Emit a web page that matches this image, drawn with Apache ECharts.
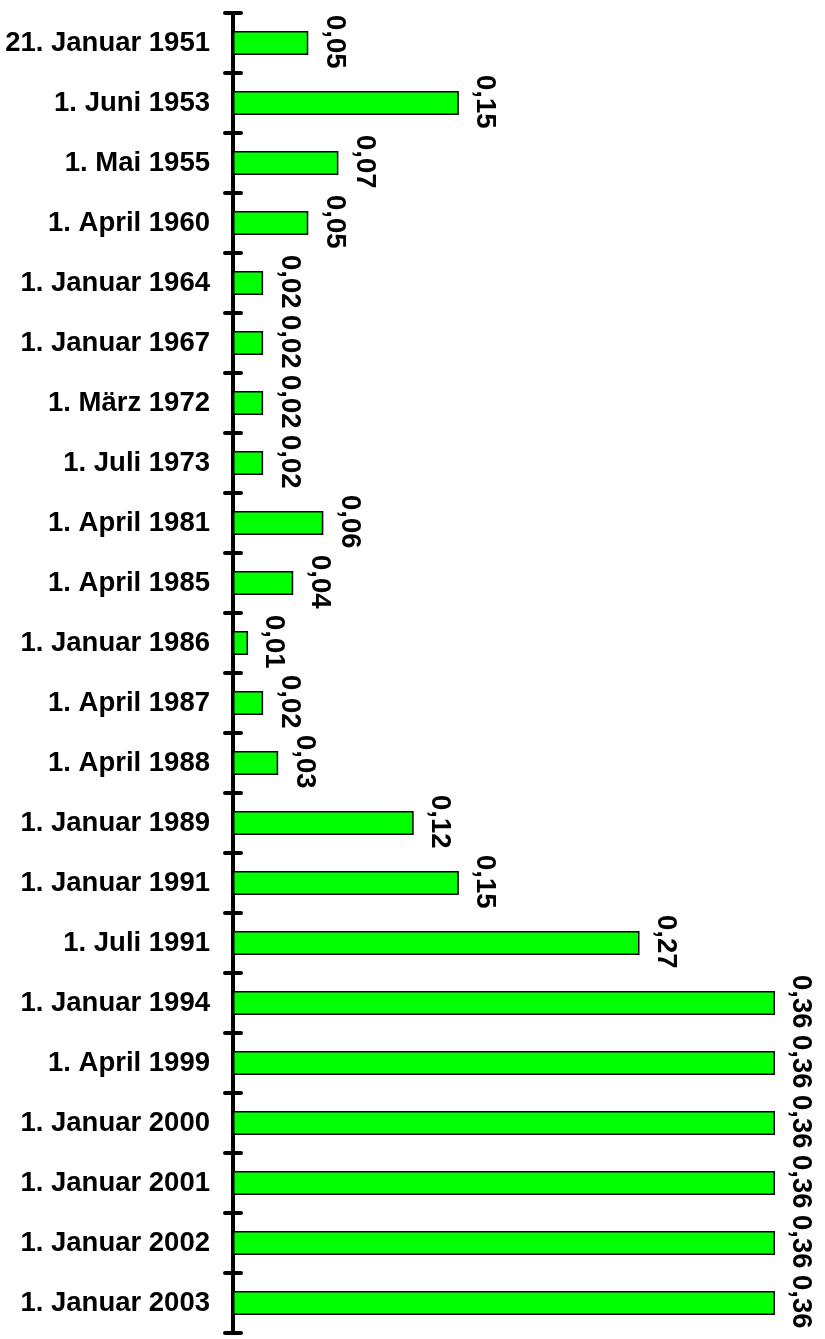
<!DOCTYPE html>
<html>
<head>
<meta charset="utf-8">
<script src="https://cdn.jsdelivr.net/npm/echarts@6/dist/echarts.min.js"></script>
<style>
html,body{margin:0;padding:0;background:#fff;}
#c{width:825px;height:1339px;}
</style>
</head>
<body>
<div id="c"></div>
<script>
const categories = [
  "21. Januar 1951", "1. Juni 1953", "1. Mai 1955", "1. April 1960",
  "1. Januar 1964", "1. Januar 1967", "1. März 1972", "1. Juli 1973",
  "1. April 1981", "1. April 1985", "1. Januar 1986", "1. April 1987",
  "1. April 1988", "1. Januar 1989", "1. Januar 1991", "1. Juli 1991",
  "1. Januar 1994", "1. April 1999", "1. Januar 2000", "1. Januar 2001",
  "1. Januar 2002", "1. Januar 2003"
];
const values = [
  0.05, 0.15, 0.07, 0.05,
  0.02, 0.02, 0.02, 0.02,
  0.06, 0.04, 0.01, 0.02,
  0.03, 0.12, 0.15, 0.27,
  0.36, 0.36, 0.36, 0.36,
  0.36, 0.36
];
const xMin = 0;
const xMax = 0.36;

const FONT = '"Liberation Sans", Arial, sans-serif';
const chart = echarts.init(document.getElementById('c'), null, {renderer: 'canvas'});
const tickStyle = {color: '#000', width: 4, cap: 'round'};
chart.setOption({
  animation: false,
  backgroundColor: '#fff',
  grid: {left: 233, top: 13, width: 542, height: 1320, containLabel: false},
  xAxis: {
    type: 'value', min: xMin, max: xMax, show: false
  },
  yAxis: [
    {
      type: 'category', data: categories, inverse: true, position: 'left',
      axisLine: {show: true, lineStyle: {color: '#000', width: 4}},
      axisTick: {show: true, inside: false, length: 8, alignWithLabel: false, lineStyle: tickStyle},
      axisLabel: {show: true, margin: 23, color: '#000', fontSize: 27.5, fontWeight: 'bold', fontFamily: FONT},
      splitLine: {show: false}
    },
    {
      type: 'category', data: categories, inverse: true, position: 'left',
      axisLine: {show: false},
      axisTick: {show: true, inside: true, length: 8, alignWithLabel: false, lineStyle: tickStyle},
      axisLabel: {show: false},
      splitLine: {show: false}
    }
  ],
  series: [{
    type: 'bar',
    yAxisIndex: 0,
    data: values,
    barWidth: 24,
    itemStyle: {color: '#00ff00', borderColor: '#000', borderWidth: 1.5},
    label: {
      show: true,
      position: ['100%', -16],
      rotate: -90,
      align: 'left',
      verticalAlign: 'bottom',
      padding: [0, 0, 12, 0],
      color: '#000',
      fontSize: 27.5,
      fontWeight: 'bold',
      fontFamily: FONT,
      formatter: p => p.value.toFixed(2).replace('.', ',')
    }
  }]
});
</script>
</body>
</html>
